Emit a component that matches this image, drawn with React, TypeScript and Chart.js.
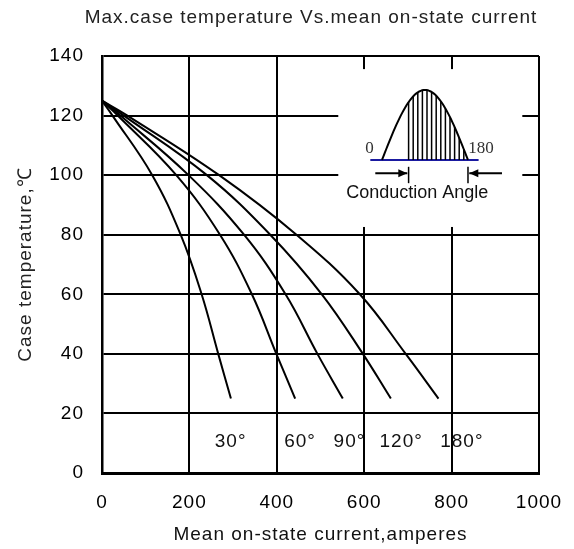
import { useEffect, useRef } from "react";
import { Chart, registerables } from "chart.js";

Chart.register(...registerables);

// Temperature levels (°C) at which each curve was read
const tempLevels = [125, 120, 100, 80, 60, 40, 25];
// Mean on-state current (A) for each conduction angle at those levels
const current30 = [0, 24, 115, 180, 228, 266, 295];
const current60 = [0, 36, 170, 270, 343, 399, 442];
const current90 = [0, 42, 198, 325, 420, 493, 551];
const current120 = [0, 50, 240, 385, 503, 597, 661];
const current180 = [0, 58, 268, 445, 590, 695, 770];

const seriesCurrents = [current30, current60, current90, current120, current180];
const angleLabels = ["30°", "60°", "90°", "120°", "180°"];
// label anchor (left edge, data units) for each angle label
const angleLabelX = [258, 417, 530, 635, 774];
const angleLabelY = 8.8;

const xMin = 0;
const xMax = 1000;
const xStep = 200;
const yMin = 0;
const yMax = 140;
const yStep = 20;

const titleText = "Max.case temperature Vs.mean on-state current";
const xTitle = "Mean on-state current,amperes";
const yTitle = "Case temperature,℃";

const FONT = "'Liberation Sans', Arial, sans-serif";
const SERIF = "'Liberation Serif', 'Times New Roman', serif";

const decorPlugin = {
  id: "decor",
  beforeDraw(chart: any) {
    chart.ctx.letterSpacing = "1px";
  },
  beforeDatasetsDraw(chart: any) {
    const { ctx, scales } = chart;
    const X = (v: number) => scales.x.getPixelForValue(v);
    const Y = (v: number) => scales.y.getPixelForValue(v);
    ctx.save();
    ctx.fillStyle = "#fff";
    const x0 = X(540.7), x1 = X(961.8), y0 = Y(135.6), y1 = Y(82.6);
    ctx.fillRect(x0, y0, x1 - x0, y1 - y0);
    ctx.restore();
  },
  afterDatasetsDraw(chart: any) {
    const { ctx, scales } = chart;
    const X = (v: number) => scales.x.getPixelForValue(v);
    const Y = (v: number) => scales.y.getPixelForValue(v);
    ctx.save();
    // angle labels
    ctx.letterSpacing = "1px";
    ctx.fillStyle = "#111";
    ctx.font = `19px ${FONT}`;
    ctx.textAlign = "left";
    ctx.textBaseline = "alphabetic";
    angleLabels.forEach((t, i) => {
      ctx.fillText(t, X(angleLabelX[i]), Y(angleLabelY));
    });

    // inset: half-wave with conduction angle
    const base = Y(105.1);
    const peak = Y(128.6);
    const ws = X(640.7), we = X(837.5);
    const wave = (px: number) => {
      const th = ((px - ws) / (we - ws)) * Math.PI;
      return base + (peak - base) * Math.sin(th);
    };
    // baseline (blue)
    ctx.strokeStyle = "#1a1aa0";
    ctx.lineWidth = 2;
    ctx.beginPath();
    ctx.moveTo(X(614), base);
    ctx.lineTo(X(861.8), base);
    ctx.stroke();
    // wave
    ctx.strokeStyle = "#000";
    ctx.lineWidth = 2;
    ctx.beginPath();
    for (let i = 0; i <= 60; i++) {
      const px = ws + ((we - ws) * i) / 60;
      const py = wave(px);
      if (i === 0) ctx.moveTo(px, py);
      else ctx.lineTo(px, py);
    }
    ctx.stroke();
    // hatching
    ctx.lineWidth = 1.5;
    const hs = X(701.6);
    const hStep = 4.6;
    for (let i = 0; i < 13; i++) {
      const px = hs + i * hStep;
      if (px > we - 2) break;
      ctx.beginPath();
      ctx.moveTo(px, base);
      ctx.lineTo(px, wave(px));
      ctx.stroke();
    }
    // 0 and 180 labels
    ctx.letterSpacing = "0px";
    ctx.fillStyle = "#333";
    ctx.font = `17px ${SERIF}`;
    ctx.textAlign = "center";
    ctx.fillText("0", X(612), Y(107.4));
    ctx.fillText("180", X(867.3), Y(107.4));
    // arrows
    const ay = Y(100.6);
    const drawArrow = (xs: number, xe: number) => {
      ctx.lineWidth = 2;
      ctx.beginPath();
      ctx.moveTo(xs, ay);
      ctx.lineTo(xe, ay);
      ctx.stroke();
      const dir = xe > xs ? 1 : -1;
      ctx.beginPath();
      ctx.moveTo(xe, ay);
      ctx.lineTo(xe - dir * 9, ay - 4);
      ctx.lineTo(xe - dir * 9, ay + 4);
      ctx.closePath();
      ctx.fillStyle = "#000";
      ctx.fill();
    };
    drawArrow(X(625.4), X(698.6));
    drawArrow(X(915.3), X(840.5));
    ctx.lineWidth = 1.5;
    [X(701.6), X(837.5)].forEach((px) => {
      ctx.beginPath();
      ctx.moveTo(px, Y(102.8));
      ctx.lineTo(px, Y(97.3));
      ctx.stroke();
    });
    ctx.fillStyle = "#111";
    ctx.font = `18px ${FONT}`;
    ctx.textAlign = "center";
    ctx.fillText("Conduction Angle", X(721.5), Y(92.3));
    ctx.restore();
  },
  afterDraw(chart: any) {
    const { ctx } = chart;
    ctx.save();
    ctx.letterSpacing = "1px";
    ctx.fillStyle = "#222";
    ctx.font = `19px ${FONT}`;
    ctx.textAlign = "center";
    ctx.textBaseline = "middle";
    ctx.fillText(titleText, 311, 18);
    ctx.restore();
  },
};

export default function App() {
  const ref = useRef<HTMLCanvasElement | null>(null);
  useEffect(() => {
    document.body.style.margin = "0";
    const canvas = ref.current;
    if (!canvas) return;
    const chart = new Chart(canvas, {
      type: "line",
      data: {
        datasets: seriesCurrents.map((cur, si) => ({
          label: angleLabels[si],
          data: tempLevels.map((t, i) => ({ x: cur[i], y: t })),
          borderColor: "#000",
          borderWidth: 2,
          pointRadius: 0,
          fill: false,
          tension: 0.4,
        })),
      },
      options: {
        animation: false,
        responsive: false,
        devicePixelRatio: 1,
        layout: { padding: { top: 56, right: 35, left: 0, bottom: 0 } },
        plugins: {
          legend: { display: false },
          tooltip: { enabled: false },
          title: { display: false },
        },
        scales: {
          x: {
            type: "linear",
            min: xMin,
            max: xMax,
            ticks: {
              stepSize: xStep,
              color: "#000",
              font: { family: FONT, size: 19 },
              padding: 18,
              maxRotation: 0,
              callback: (v: any) => String(v),
            },
            grid: { color: "#000", lineWidth: 2, drawTicks: false },
            border: { display: true, color: "#000", width: 3 },
            title: {
              display: true,
              text: xTitle,
              color: "#111",
              font: { family: FONT, size: 19 },
              padding: { top: 0, bottom: 3 },
            },
            afterFit(scale: any) {
              scale.height = 76;
              scale.paddingLeft = 0;
              scale.paddingRight = 0;
            },
          },
          y: {
            type: "linear",
            min: yMin,
            max: yMax,
            ticks: {
              stepSize: yStep,
              color: "#000",
              font: { family: FONT, size: 19 },
              padding: 18,
              callback: (v: any) => String(v),
            },
            grid: { color: "#000", lineWidth: 2, drawTicks: false },
            border: { display: true, color: "#000", width: 2.5 },
            title: {
              display: true,
              text: yTitle,
              color: "#222",
              font: { family: FONT, size: 19 },
              padding: { top: 14, bottom: 0 },
            },
            afterFit(scale: any) {
              scale.width = 102;
              scale.paddingTop = 0;
              scale.paddingBottom = 0;
            },
          },
        },
      },
      plugins: [decorPlugin],
    });
    return () => chart.destroy();
  }, []);
  return (
    <div style={{ width: 574, height: 549, background: "#fff" }}>
      <canvas ref={ref} width={574} height={549} style={{ display: "block", width: 574, height: 549 }} />
    </div>
  );
}
